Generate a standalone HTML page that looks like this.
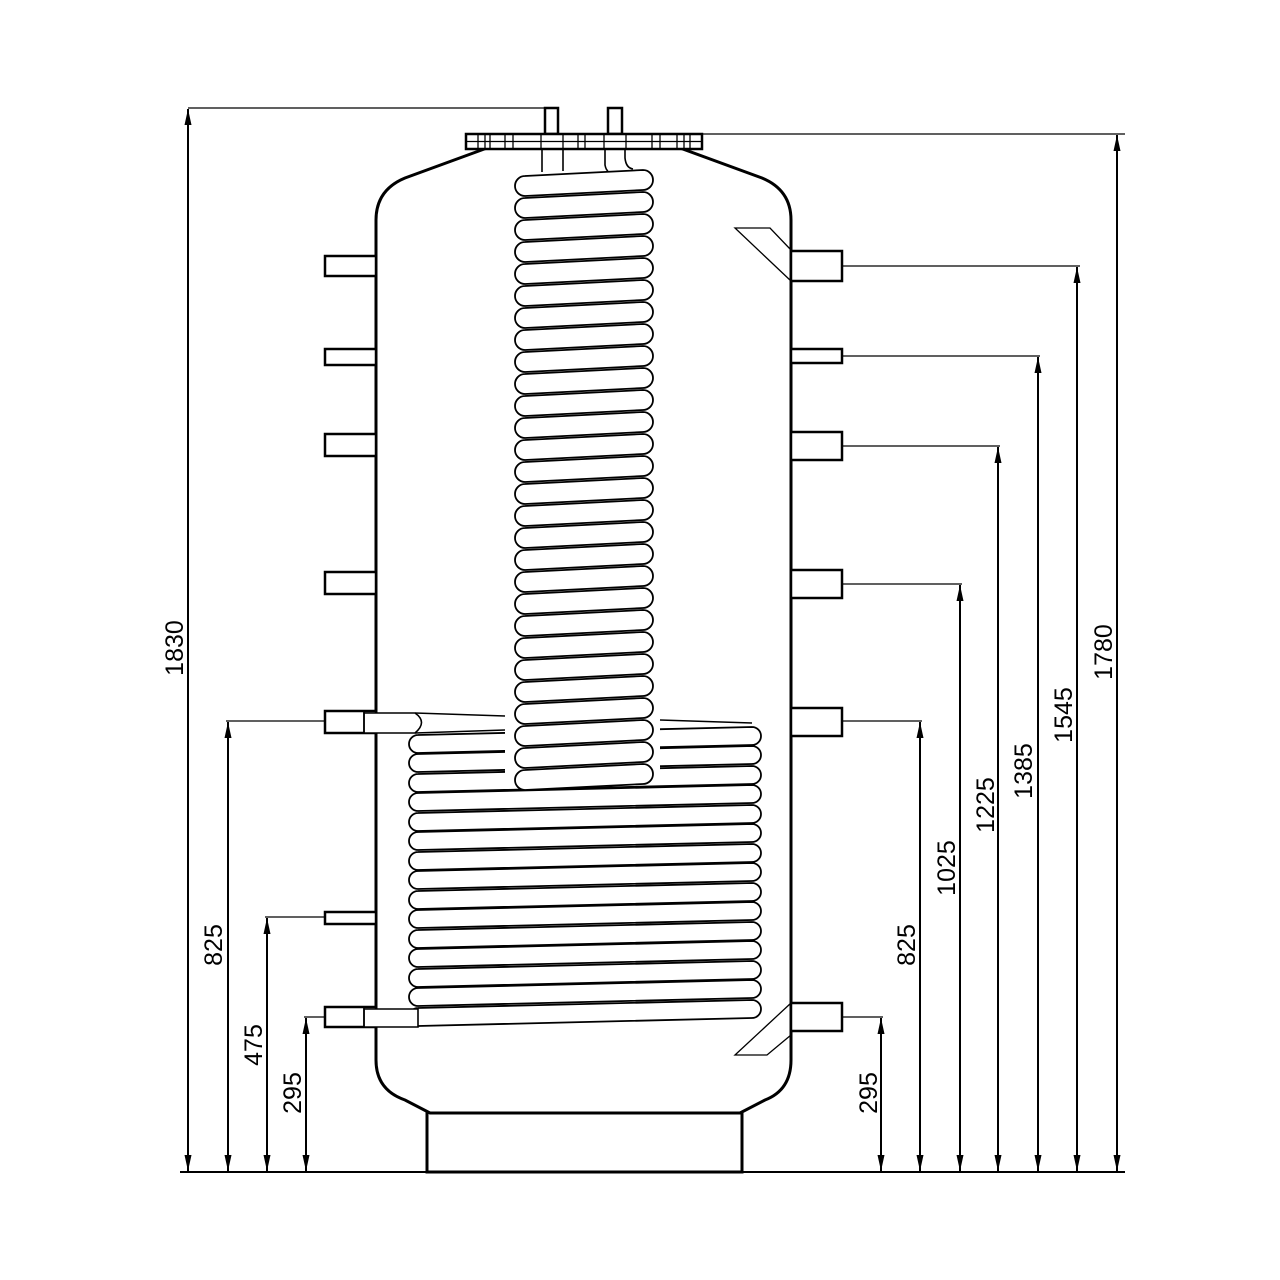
<!DOCTYPE html>
<html><head><meta charset="utf-8"><style>html,body{margin:0;padding:0;background:#fff}svg{display:block}</style></head>
<body>
<svg width="1280" height="1280" viewBox="0 0 1280 1280" xmlns="http://www.w3.org/2000/svg">
<defs>
<marker id="a" markerWidth="16" markerHeight="7" refX="16" refY="3.5" orient="auto-start-reverse" markerUnits="userSpaceOnUse" viewBox="0 0 16 7">
<path d="M0,0 L16,3.5 L0,7 Z" fill="#000"/></marker>
<path id="uc" d="M525,0 L643,-6 A10,10 0 0 1 643,14 L525,20 A10,10 0 0 1 525,0 Z" fill="#fff" stroke="#000" stroke-width="1.8"/>
<path id="lc" d="M418,0 L752,-8 A9,9 0 0 1 752,10 L418,18 A9,9 0 0 1 418,0 Z" fill="#fff" stroke="#000" stroke-width="1.8"/>
</defs>
<g fill="none" stroke="#000">
<g stroke-width="1.3">
<line x1="180" y1="1172" x2="1125" y2="1172" stroke-width="2"/>
<line x1="188" y1="108" x2="545" y2="108"/>
<line x1="702" y1="134" x2="1125" y2="134"/>
<line x1="843" y1="266" x2="1080" y2="266"/>
<line x1="843" y1="356" x2="1040" y2="356"/>
<line x1="843" y1="446" x2="1000" y2="446"/>
<line x1="843" y1="584" x2="962" y2="584"/>
<line x1="843" y1="721" x2="922" y2="721"/>
<line x1="843" y1="1017" x2="883" y2="1017"/>
<line x1="226" y1="721" x2="325" y2="721"/>
<line x1="265" y1="917" x2="325" y2="917"/>
<line x1="304" y1="1017" x2="325" y2="1017"/>
</g>
<g stroke-width="2" marker-start="url(#a)" marker-end="url(#a)">
<line x1="188" y1="109" x2="188" y2="1171"/>
<line x1="1117" y1="135" x2="1117" y2="1171"/>
<line x1="1077" y1="267" x2="1077" y2="1171"/>
<line x1="1038" y1="357" x2="1038" y2="1171"/>
<line x1="998" y1="447" x2="998" y2="1171"/>
<line x1="960" y1="585" x2="960" y2="1171"/>
<line x1="920" y1="722" x2="920" y2="1171"/>
<line x1="881" y1="1018" x2="881" y2="1171"/>
<line x1="228" y1="722" x2="228" y2="1171"/>
<line x1="267" y1="918" x2="267" y2="1171"/>
<line x1="306" y1="1018" x2="306" y2="1171"/>
</g>
</g>
<g stroke="#000" fill="#fff" stroke-width="3">
<rect x="427" y="1112" width="315" height="60"/>
<path d="M487,148 L405,178 Q376,190 376,220 L376,1060 Q376,1090 405,1100 L430,1113 L740,1113 L765,1100 Q791,1090 791,1060 L791,220 Q791,190 762,178 L680,148 Z"/>
</g>
<g stroke="#000" fill="#fff" stroke-width="2.5">
<rect x="325" y="256" width="51" height="20"/>
<rect x="325" y="349" width="51" height="16"/>
<rect x="325" y="434" width="51" height="22"/>
<rect x="325" y="572" width="51" height="22"/>
<rect x="325" y="711" width="51" height="22"/>
<rect x="325" y="912" width="51" height="12"/>
<rect x="325" y="1007" width="51" height="20"/>
<rect x="791" y="251" width="51" height="30"/>
<rect x="791" y="349" width="51" height="14"/>
<rect x="791" y="432" width="51" height="28"/>
<rect x="791" y="570" width="51" height="28"/>
<rect x="791" y="708" width="51" height="28"/>
<rect x="791" y="1003" width="51" height="28"/>
</g>
<g>
<use href="#lc" y="1008"/><use href="#lc" y="988"/><use href="#lc" y="969"/><use href="#lc" y="949"/><use href="#lc" y="930"/><use href="#lc" y="910"/><use href="#lc" y="891"/><use href="#lc" y="871"/><use href="#lc" y="852"/><use href="#lc" y="832"/><use href="#lc" y="813"/><use href="#lc" y="793"/><use href="#lc" y="774"/><use href="#lc" y="754"/><use href="#lc" y="735"/>
</g>
<rect x="505" y="705" width="155" height="80" fill="#fff"/>
<g stroke="#000" fill="#fff" stroke-width="1.6">
<path d="M364,713 L415,713 Q428,722 415,733 L364,733 Z"/>
<line x1="364" y1="711" x2="364" y2="733"/>
<path d="M364,1009 L418,1009 L418,1027 L364,1027 Z" />
<line x1="364" y1="1007" x2="364" y2="1027"/>
<line x1="415" y1="713" x2="505" y2="716"/>
<line x1="415" y1="733" x2="505" y2="730"/>
<line x1="660" y1="720" x2="752" y2="723"/>
</g>
<g>
<use href="#uc" y="770"/><use href="#uc" y="748"/><use href="#uc" y="726"/><use href="#uc" y="704"/><use href="#uc" y="682"/><use href="#uc" y="660"/><use href="#uc" y="638"/><use href="#uc" y="616"/><use href="#uc" y="594"/><use href="#uc" y="572"/><use href="#uc" y="550"/><use href="#uc" y="528"/><use href="#uc" y="506"/><use href="#uc" y="484"/><use href="#uc" y="462"/><use href="#uc" y="440"/><use href="#uc" y="418"/><use href="#uc" y="396"/><use href="#uc" y="374"/><use href="#uc" y="352"/><use href="#uc" y="330"/><use href="#uc" y="308"/><use href="#uc" y="286"/><use href="#uc" y="264"/><use href="#uc" y="242"/><use href="#uc" y="220"/><use href="#uc" y="198"/><use href="#uc" y="176"/>
</g>
<g stroke="#000" fill="none" stroke-width="1.6">
<line x1="542" y1="149" x2="542" y2="172"/><line x1="563" y1="149" x2="563" y2="171"/>
<path d="M605,149 L605,165 Q606,170 608,171"/><path d="M625,149 L625,158 Q626,168 633,169"/>
</g>
<g stroke="#000" fill="#fff" stroke-width="2.5">
<rect x="545" y="108" width="13" height="26"/>
<rect x="608" y="108" width="14" height="26"/>
<rect x="466" y="134" width="236" height="15"/>
</g>
<g stroke="#000" stroke-width="1.3">
<line x1="466" y1="141.5" x2="702" y2="141.5"/>
<line x1="478" y1="134" x2="478" y2="149"/><line x1="485" y1="134" x2="485" y2="149"/><line x1="490" y1="134" x2="490" y2="149"/>
<line x1="505" y1="134" x2="505" y2="149"/><line x1="513" y1="134" x2="513" y2="149"/>
<line x1="541" y1="134" x2="541" y2="149"/><line x1="563" y1="134" x2="563" y2="149"/>
<line x1="578" y1="134" x2="578" y2="149"/><line x1="585" y1="134" x2="585" y2="149"/>
<line x1="604" y1="134" x2="604" y2="149"/><line x1="626" y1="134" x2="626" y2="149"/>
<line x1="652" y1="134" x2="652" y2="149"/><line x1="660" y1="134" x2="660" y2="149"/>
<line x1="677" y1="134" x2="677" y2="149"/><line x1="684" y1="134" x2="684" y2="149"/><line x1="690" y1="134" x2="690" y2="149"/>
</g>
<g stroke="#000" fill="none" stroke-width="1.3">
<path d="M791,281 L735,228 L770,228 L791,250"/>
<path d="M791,1003 L735,1055 L767,1055 L791,1035"/>
</g>
<g font-family="Liberation Sans, sans-serif" font-size="25" fill="#000" text-anchor="middle">
<text transform="translate(183,648) rotate(-90)">1830</text>
<text transform="translate(222,945) rotate(-90)">825</text>
<text transform="translate(262,1045) rotate(-90)">475</text>
<text transform="translate(301,1093) rotate(-90)">295</text>
<text transform="translate(877,1093) rotate(-90)">295</text>
<text transform="translate(915,945) rotate(-90)">825</text>
<text transform="translate(955,868) rotate(-90)">1025</text>
<text transform="translate(994,805) rotate(-90)">1225</text>
<text transform="translate(1032,771) rotate(-90)">1385</text>
<text transform="translate(1072,715) rotate(-90)">1545</text>
<text transform="translate(1112,652) rotate(-90)">1780</text>
</g>
</svg>
</body></html>
